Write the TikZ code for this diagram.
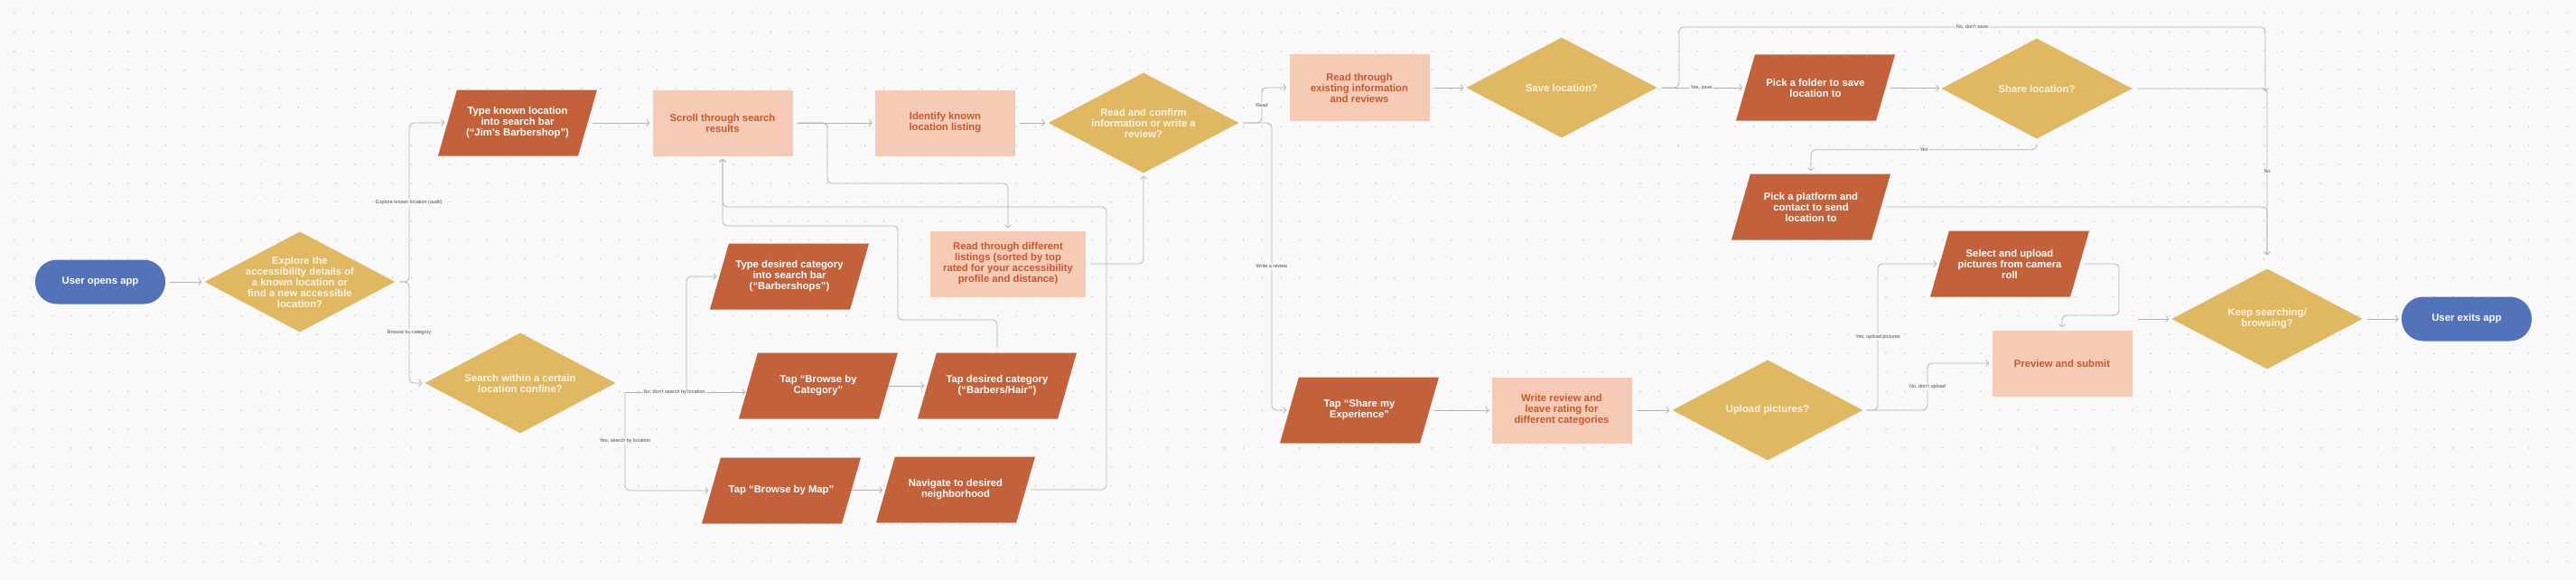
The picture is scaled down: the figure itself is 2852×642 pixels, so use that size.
\documentclass[tikz,border=0pt]{standalone}
\usepackage{fontspec}
\setmainfont{Liberation Sans}
\usetikzlibrary{shapes.geometric,
                arrows.meta,
                positioning}
\definecolor{pagebg}{HTML}{F9F9F9}
\definecolor{dotgray}{HTML}{CDCDCD}
\definecolor{linegray}{HTML}{B3B3B3}
\definecolor{condgray}{HTML}{4A4A4A}
\definecolor{appblue}{HTML}{5273BA}
\definecolor{askyellow}{HTML}{E0B862}
\definecolor{asktext}{HTML}{FDF4E3}
\definecolor{tapbrick}{HTML}{C2613A}
\definecolor{readpeach}{HTML}{F5CBB6}
\definecolor{readtext}{HTML}{C4592F}
\tikzset{terminal/.style =
   {rectangle,
    rounded corners=24pt,
    fill=appblue,
    text=white,
    minimum width=144pt,
    minimum height=49pt,
    font=\fontsize{11.3}{12}\selectfont\bfseries}}
\tikzset{decision/.style =
   {diamond,
    fill=askyellow,
    minimum width=211pt,
    minimum height=111pt,
    inner sep=0pt}}
\tikzset{qtext/.style =
   {text=asktext,
    align=center,
    font=\fontsize{11.3}{12}\selectfont\bfseries}}
\tikzset{action/.style =
   {trapezium,
    trapezium left angle=74,
    trapezium right angle=106,
    trapezium stretches body=true,
    fill=tapbrick,
    inner xsep=0pt,
    inner ysep=36.5pt,
    minimum width=176pt}}
\tikzset{atext/.style =
   {text=white,
    align=center,
    font=\fontsize{11.3}{12}\selectfont\bfseries}}
\tikzset{process/.style =
   {rectangle,
    fill=readpeach,
    text=readtext,
    align=center,
    minimum width=155pt,
    minimum height=73pt,
    font=\fontsize{11.3}{12}\selectfont\bfseries}}
\tikzset{arrow/.style = {draw=linegray, line width=0.8pt, rounded corners=5pt,
    shorten <=5pt, shorten >=3pt, -{Straight Barb[length=3pt, width=7pt]}}}
\tikzset{branch/.style = {arrow, shorten <=0pt}}
\tikzset{cond/.style = {fill=pagebg, text=condgray, inner sep=1pt,
    font=\fontsize{5.5}{6}\selectfont}}
\begin{document}
\begin{tikzpicture}[x=1pt, y=-1pt]

    \path [use as bounding box, fill=pagebg] (0,0) rectangle (2852,642);
    \foreach \i in {0,...,135}
      \foreach \j in {0,...,29}
        \fill [dotgray] (16+20.93*\i, 14.5+20.93*\j) circle (0.9pt);

    \node [terminal] (start) at (111,312) {User opens app};
    \node [decision, label={[qtext]center:Explore the\\accessibility details of\\a known location or\\find a new accessible\\location?}]
      (explore) at (332,312) {};
    \node [action, label={[atext]center:Type known location\\into search bar\\(“Jim’s Barbershop”)}]
      (typeknown) at (573,136) {};
    \node [process] (scroll) at (800,136) {Scroll through search\\results};
    \node [process, right=91pt of scroll] (identify) {Identify known\\location listing};
    \node [decision, label={[qtext]center:Read and confirm\\information or write a\\review?}]
      (confirm) at (1266,136) {};
    \node [process, minimum width=172pt] (readdiff) at (1116,292)
      {Read through different\\listings (sorted by top\\rated for your accessibility\\profile and distance)};
    \node [decision, label={[qtext]center:Search within a certain\\location confine?}]
      (search) at (576,424) {};
    \node [action, label={[atext]center:Type desired category\\into search bar\\(“Barbershops”)}]
      (typecat) at (874,306) {};
    \node [action, label={[atext]center:Tap “Browse by\\Category”}] (browsecat) at (906,427) {};
    \node [action, label={[atext]center:Tap desired category\\(“Barbers/Hair”)}] (tapcat) at (1104,427) {};
    \node [action, label={[atext]center:Tap “Browse by Map”}] (browsemap) at (865,543) {};
    \node [action, label={[atext]center:Navigate to desired\\neighborhood}] (navigate) at (1058,542) {};
    \node [process] (readexist) at (1505,97) {Read through\\existing information\\and reviews};
    \node [decision, label={[qtext]center:Save location?}] (save) at (1729,97) {};
    \node [action, label={[atext]center:Pick a folder to save\\location to}] (folder) at (2010,97) {};
    \node [decision, label={[qtext]center:Share location?}] (share) at (2255,98) {};
    \node [action, label={[atext]center:Pick a platform and\\contact to send\\location to}]
      (platform) at (2005,229) {};
    \node [action, label={[atext]center:Select and upload\\pictures from camera\\roll}]
      (select) at (2225,292) {};
    \node [decision, label={[qtext]center:Keep searching/\\browsing?}] (keep) at (2510,353) {};
    \node [terminal, right=43pt of keep] (exit) {User exits app};
    \node [action, label={[atext]center:Tap “Share my\\Experience”}] (shareexp) at (1505,454) {};
    \node [process] (writerev) at (1729,454) {Write review and\\leave rating for\\different categories};
    \node [decision, label={[qtext]center:Upload pictures?}] (upload) at (1957,454) {};
    \node [process] (preview) at (2283,402) {Preview and submit};

    \coordinate (nosplit) at (692,434);
    \coordinate (catsplit) at (760,434);
    \coordinate (sharejoin) at (2508,104);
    \coordinate (previewout) at (2367,353);

    \draw [arrow] (start) -- (explore);
    \draw [arrow] (explore.east) -- (453,312)
      |- node [cond, pos=0.25] {Explore known location (audit)} (typeknown.west);
    \draw [arrow] (explore.east) -- (453,312)
      |- node [cond, pos=0.25] {Browse by category} (search.west);
    \draw [arrow] (typeknown) -- (scroll);
    \draw [arrow] (scroll) -- (identify);
    \draw [arrow] (scroll.east) -- (916,136) -- (916,203) -| (readdiff.north);
    \draw [arrow] (identify) -- (confirm);
    \draw [arrow] (readdiff.east) -| (confirm.south);
    \draw [arrow] (navigate.east) -| (1225,229) -| (scroll.south);
    \draw [arrow] (tapcat.north) |- (994,354) |- (800,250) -- (scroll.south);
    \draw [branch] (nosplit) -- node [cond, pos=0.4] {No, don't search by location}
      (nosplit -| browsecat.west);
    \draw [branch] (nosplit) |- node [cond, pos=0.25] {Yes, search by location} (browsemap.west);
    \draw [branch] (catsplit) |- (typecat.west);
    \draw [branch] (browsecat) -- (tapcat);
    \draw [branch] (browsemap) -- (navigate);

    \draw [arrow] (confirm.east) -- (1397,136) |- node [cond, pos=0.25] {Read} (readexist.west);
    \draw [arrow] (confirm.east) -- (1408,136) |- node [cond, pos=0.25] {Write a review} (shareexp.west);
    \draw [arrow] (readexist) -- (save);
    \draw [arrow] (save) -- node [cond] {Yes, save} (folder);
    \draw [arrow] (save.east) -- (1859,97) |- node [cond, pos=0.75] {No, don't save} (2508,30)
      -- (sharejoin);
    \draw [arrow] (folder) -- (share);
    \draw [arrow, shorten >=15pt] (share.east) -| node [cond, pos=0.73] {No} (keep.north);
    \draw [arrow] (share.south) -- ++(0,12) -| node [cond, pos=0.25] {Yes} (platform.north);
    \draw [arrow, shorten >=15pt] (platform.east) -| (keep.north);

    \draw [arrow] (shareexp) -- (writerev);
    \draw [arrow] (writerev) -- (upload);
    \draw [arrow] (upload.east) -- (2079,454) |- node [cond, pos=0.25] {Yes, upload pictures} (select.west);
    \draw [arrow] (upload.east) -- (2134,454) |- node [cond, pos=0.25] {No, don't upload} (preview.west);
    \draw [arrow] (select.east) -| (2346,349) -| (preview.north);
    \draw [branch] (previewout) -- (keep.west);
    \draw [arrow] (keep) -- (exit);

\end{tikzpicture}
\end{document}
